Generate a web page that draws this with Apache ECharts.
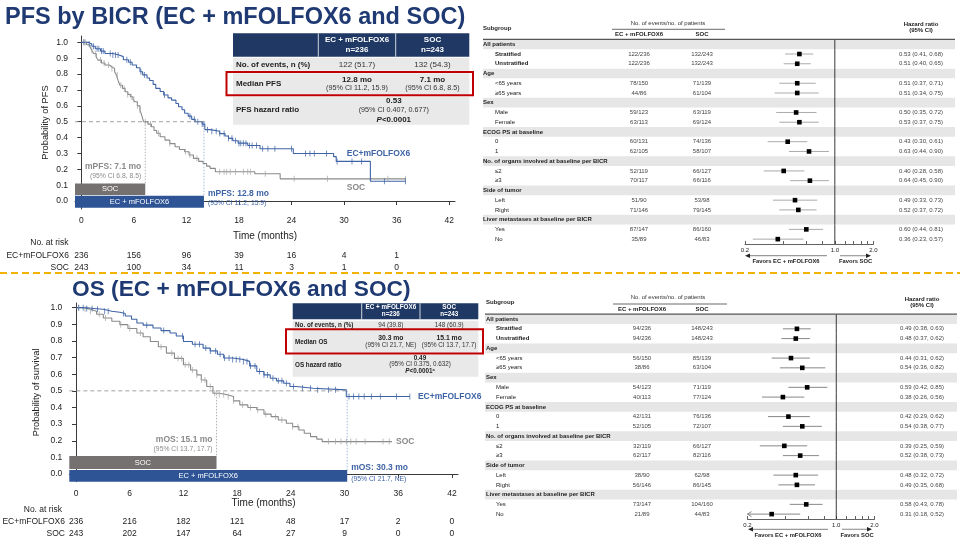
<!DOCTYPE html>
<html><head><meta charset="utf-8">
<script src="https://cdn.jsdelivr.net/npm/echarts@6/dist/echarts.min.js"></script>
<style>html,body{margin:0;padding:0;background:#fff}#c{width:960px;height:540px}</style>
</head><body><div id="c"></div>
<script>
// ================= DATA =================
const kmTicks = [0, 6, 12, 18, 24, 30, 36, 42];
const kmYTicks = [0, 0.1, 0.2, 0.3, 0.4, 0.5, 0.6, 0.7, 0.8, 0.9, 1.0];

// PFS curves [time (months), probability after drop]
const pfsEcCurve = [[0,1],[0.8,0.99],[1.2,0.975],[1.6,0.96],[2.2,0.945],[2.7,0.93],[3.6,0.92],[4.3,0.91],[4.8,0.89],[5.4,0.875],[5.8,0.857],[6.3,0.84],[6.7,0.815],[7.0,0.795],[7.5,0.775],[7.8,0.76],[8.2,0.735],[8.5,0.71],[9.0,0.69],[9.4,0.668],[9.9,0.65],[10.3,0.636],[10.8,0.615],[11.1,0.594],[11.5,0.575],[11.8,0.553],[12.2,0.535],[12.6,0.515],[13.0,0.5],[13.8,0.485],[14.1,0.45],[14.7,0.44],[15.8,0.425],[16.4,0.41],[16.8,0.395],[17.3,0.38],[17.9,0.365],[19.0,0.35],[20.4,0.33],[24.2,0.30],[28.8,0.28],[29.1,0.25],[33.0,0.125],[37.0,0.125]];
const pfsSocCurve = [[0,1],[0.6,0.985],[1.0,0.97],[1.2,0.95],[1.4,0.93],[1.7,0.91],[1.9,0.888],[2.3,0.87],[2.7,0.857],[3.2,0.845],[3.5,0.836],[3.8,0.815],[4.0,0.794],[4.2,0.76],[4.4,0.73],[4.7,0.71],[5.0,0.689],[5.3,0.672],[5.6,0.657],[5.9,0.64],[6.1,0.626],[6.4,0.6],[6.7,0.573],[6.9,0.54],[7.1,0.5],[7.6,0.485],[8.0,0.468],[8.3,0.445],[8.6,0.427],[9.0,0.405],[9.55,0.384],[10.1,0.362],[10.7,0.342],[11.2,0.325],[11.8,0.311],[12.3,0.29],[12.8,0.269],[13.4,0.25],[13.9,0.237],[14.3,0.22],[14.7,0.206],[15.3,0.185],[19.8,0.172],[22.7,0.14],[37.0,0.14]];
const pfsEcCensor = [0.3,0.9,1.4,1.8,2.0,2.3,2.5,3.3,3.6,3.9,4.2,5.2,5.6,6.8,7.2,9.5,12.4,12.9,13.3,13.8,14.0,14.4,14.9,15.4,15.8,16.3,16.8,17.2,17.6,18.0,18.2,18.5,18.8,19.2,19.5,20.0,20.7,21.3,22.1,24.0,25.6,26.1,26.6,28.0,29.2,30.9,32.0,34.6,37.0];
const pfsSocCensor = [0.3,0.5,1.2,1.6,2.2,2.6,3.1,3.5,4.1,4.5,4.9,5.3,5.7,6.0,6.4,6.7,7.3,7.9,8.8,10.1,11.9,12.4,13.2,15.8,16.3,16.6,17.0,17.6,18.5,19.0,19.3,21.0,24.3,28.1,35.0,37.0];
const pfsRiskEc = [236, 156, 96, 39, 16, 4, 1];
const pfsRiskSoc = [243, 100, 34, 11, 3, 1, 0];
const pfsMedianLine = { soc: 7.3, ec: 14.0 };
const pfsMedianText = { soc: ['mPFS: 7.1 mo', '(95% CI 6.8, 8.5)'], ec: ['mPFS: 12.8 mo', '(95% CI 11.2, 15.9)'] };

// OS curves
const osEcCurve = [[0,1],[1.0,0.995],[2.0,0.99],[3.05,0.978],[4.0,0.972],[4.9,0.965],[5.5,0.95],[6.2,0.93],[6.8,0.908],[7.5,0.895],[8.6,0.878],[9.5,0.862],[10.5,0.848],[11.2,0.83],[12.0,0.797],[13.0,0.78],[14.2,0.757],[15.0,0.74],[15.8,0.72],[16.5,0.697],[17.5,0.688],[18.7,0.677],[19.4,0.65],[20.2,0.616],[21.0,0.596],[21.7,0.576],[22.4,0.56],[23.2,0.546],[23.9,0.526],[24.6,0.516],[26.5,0.506],[30.2,0.466],[37.3,0.466]];
const osSocCurve = [[0,1],[0.8,0.99],[1.6,0.978],[2.3,0.96],[3.05,0.938],[4.0,0.918],[4.9,0.898],[5.8,0.875],[6.8,0.848],[7.5,0.825],[8.3,0.797],[9.2,0.765],[10.1,0.727],[11.0,0.695],[12.0,0.657],[12.8,0.625],[13.5,0.596],[14.0,0.565],[14.6,0.526],[15.3,0.486],[16.0,0.478],[16.8,0.466],[17.6,0.44],[18.3,0.416],[19.2,0.40],[20.2,0.386],[21.0,0.36],[21.8,0.345],[22.6,0.325],[23.5,0.305],[24.2,0.285],[24.9,0.265],[25.5,0.245],[26.2,0.225],[26.9,0.21],[27.5,0.195],[35.3,0.195]];
const osEcCensor = [0.3,0.8,1.2,1.8,2.4,3.2,3.6,5.3,7.9,9.8,11.9,13.3,13.8,14.5,15.0,15.6,16.1,16.6,17.1,17.5,17.9,18.3,18.7,19.1,19.5,20.0,20.5,21.0,21.4,22.0,22.6,23.0,23.5,24.3,25.3,26.2,27.0,28.2,29.0,30.5,31.0,31.6,32.2,33.0,34.0,35.8,37.3];
const osSocCensor = [0.3,1.0,1.6,2.6,3.3,5.0,6.0,7.2,9.5,10.7,11.4,11.8,12.2,12.6,13.0,13.5,14.0,14.4,15.0,15.5,16.0,16.5,17.0,17.6,18.6,19.5,20.3,21.2,22.3,23.0,24.2,24.8,28.2,29.0,29.6,30.2,30.7,31.3,32.3,34.3,35.0];
const osRiskEc = [236, 216, 182, 121, 48, 17, 2, 0];
const osRiskSoc = [243, 202, 147, 64, 27, 9, 0, 0];
const osMedianLine = { soc: 15.7, ec: 30.3 };
const osMedianText = { soc: ['mOS: 15.1 mo', '(95% CI 13.7, 17.7)'], ec: ['mOS: 30.3 mo', '(95% CI 21.7, NE)'] };

// Forest plots
const subgroups = ['All patients','Stratified','Unstratified','Age','<65 years','\u226565 years','Sex','Male','Female','ECOG PS at baseline','0','1','No. of organs involved at baseline per BICR','\u22642','\u22653','Side of tumor','Left','Right','Liver metastases at baseline per BICR','Yes','No'];
const pfsEvEc  = [null,'122/236','122/236',null,'78/150','44/86',null,'59/123','63/113',null,'60/131','62/105',null,'52/119','70/117',null,'51/90','71/146',null,'87/147','35/89'];
const pfsEvSoc = [null,'132/243','132/243',null,'71/139','61/104',null,'63/119','69/124',null,'74/136','58/107',null,'66/127','66/116',null,'53/98','79/145',null,'86/160','46/83'];
const pfsHr = [null,0.53,0.51,null,0.51,0.51,null,0.50,0.53,null,0.43,0.63,null,0.40,0.64,null,0.49,0.52,null,0.60,0.36];
const pfsLo = [null,0.41,0.40,null,0.37,0.34,null,0.35,0.37,null,0.30,0.44,null,0.28,0.45,null,0.33,0.37,null,0.44,0.23];
const pfsHi = [null,0.68,0.65,null,0.71,0.75,null,0.72,0.75,null,0.61,0.90,null,0.58,0.90,null,0.73,0.72,null,0.81,0.57];
const osEvEc  = [null,'94/236','94/236',null,'56/150','38/86',null,'54/123','40/113',null,'42/131','52/105',null,'32/119','62/117',null,'38/90','56/146',null,'73/147','21/89'];
const osEvSoc = [null,'148/243','148/243',null,'85/139','63/104',null,'71/119','77/124',null,'76/136','72/107',null,'66/127','82/116',null,'62/98','86/145',null,'104/160','44/83'];
const osHr = [null,0.49,0.48,null,0.44,0.54,null,0.59,0.38,null,0.42,0.54,null,0.39,0.52,null,0.48,0.49,null,0.58,0.31];
const osLo = [null,0.38,0.37,null,0.31,0.36,null,0.42,0.26,null,0.29,0.38,null,0.25,0.38,null,0.32,0.35,null,0.43,0.18];
const osHi = [null,0.63,0.62,null,0.62,0.82,null,0.85,0.56,null,0.62,0.77,null,0.59,0.73,null,0.72,0.68,null,0.78,0.52];
const forestTicks = [0.2, 0.4, 0.6, 0.8, 1.0, 1.2, 1.4, 1.6, 1.8, 2.0];
const forestLabels = [0.2, 1.0, 2.0];

// ================= STYLE / LAYOUT =================
const FONT = '"Liberation Sans", Arial, Helvetica, sans-serif';
const BLUE = '#3F64A6', GRAYC = '#8A8A8A', GRAYCEN = '#A6A6A6', BLUEBAR = '#2F5496', SOCBAR = '#767171';
const NAVY = '#1F3864', TITLE = '#1F3A72', RED = '#C00000', AX = '#3A3A3A', TXT = '#222';
const boldRows = ['Stratified', 'Unstratified'];
const KMF = 8.5; // km tick / at-risk font

function survAt(curve, t) { let s = curve[0][1]; for (const p of curve) { if (p[0] <= t) s = p[1]; else break; } return s; }

function st(text, o) {
  o = o || {};
  const s = { text: text, fill: o.fill || TXT, fontSize: o.size || 8, fontWeight: o.bold ? 'bold' : 'normal',
    fontStyle: o.italic ? 'italic' : 'normal', fontFamily: FONT,
    align: o.align || 'left', verticalAlign: 'middle', textAlign: o.align || 'left', textVerticalAlign: 'middle' };
  if (o.rich) s.rich = o.rich;
  return s;
}
function T(x, y, text, o) { return { type: 'text', x: x, y: y, silent: true, z: 20, style: st(text, o) }; }
function CT(x, y, text, o) { return { type: 'text', x: x, y: y, z2: 6, style: st(text, o) }; }
function L(x1, y1, x2, y2, color, w, dash) { return { type: 'line', silent: true, z: 20, shape: { x1, y1, x2, y2 }, style: { stroke: color, lineWidth: w || 1, lineDash: dash || null } }; }
function R(x, y, w, h, fill, stroke, lw) { return { type: 'rect', silent: true, z: 15, shape: { x, y, width: w, height: h }, style: { fill: fill || 'none', stroke: stroke || null, lineWidth: lw || 0 } }; }

const pfsPanel = { x0: -0.72, med: pfsMedianLine, txt: pfsMedianText, socBar: [0.038, 0.111], ecBar: [-0.042, 0.033],
  socTxtY: [0.214, 0.158], ecTxtY: [0.044, -0.013], ecLab: [30.3, 0.30], socLab: [30.3, 0.082], riskY: [255.5, 267.5] };
const osPanel = { x0: -0.75, med: osMedianLine, txt: osMedianText, socBar: [0.030, 0.108], ecBar: [-0.046, 0.024],
  socTxtY: [0.205, 0.150], ecTxtY: [0.036, -0.030], ecLab: [38.2, 0.464], socLab: [35.75, 0.193], riskY: [522, 533.5] };

function overlaySeries(gi, p) {
  return {
    type: 'custom', xAxisIndex: gi, yAxisIndex: gi, clip: false, silent: true, z: 4,
    data: [[0, 0.5]], encode: { x: 0, y: 1 },
    renderItem: function (params, api) {
      const c = (x, y) => api.coord([x, y]);
      const els = [];
      const a = c(p.x0, 0.5), b = c(p.med.ec, 0.5);
      els.push({ type: 'line', shape: { x1: a[0], y1: a[1], x2: b[0], y2: b[1] }, style: { stroke: '#8C8C8C', lineWidth: 0.8, lineDash: [4, 3] } });
      const s1 = c(p.med.soc, 0.5), s2 = c(p.med.soc, p.socBar[1]);
      els.push({ type: 'line', shape: { x1: s1[0], y1: s1[1], x2: s2[0], y2: s2[1] }, style: { stroke: '#A0A0A0', lineWidth: 0.8, lineDash: [1.5, 1.5] } });
      const e1 = c(p.med.ec, 0.5), e2 = c(p.med.ec, p.ecBar[1]);
      els.push({ type: 'line', shape: { x1: e1[0], y1: e1[1], x2: e2[0], y2: e2[1] }, style: { stroke: '#8FA6D0', lineWidth: 0.8, lineDash: [1.5, 1.5] } });
      const r1 = c(p.x0, p.socBar[1]), r2 = c(p.med.soc, p.socBar[0]);
      els.push({ type: 'rect', shape: { x: r1[0], y: r1[1], width: r2[0] - r1[0], height: r2[1] - r1[1] }, style: { fill: SOCBAR } });
      els.push(CT((r1[0] + r2[0]) / 2, (r1[1] + r2[1]) / 2, 'SOC', { fill: '#fff', size: 7.5, align: 'center' }));
      const q1 = c(p.x0, p.ecBar[1]), q2 = c(p.med.ec, p.ecBar[0]);
      els.push({ type: 'rect', shape: { x: q1[0], y: q1[1], width: q2[0] - q1[0], height: q2[1] - q1[1] }, style: { fill: BLUEBAR } });
      els.push(CT((q1[0] + q2[0]) / 2, (q1[1] + q2[1]) / 2, 'EC + mFOLFOX6', { fill: '#fff', size: 7.5, align: 'center' }));
      const t1 = c(p.med.soc, p.socTxtY[0]), t2 = c(p.med.soc, p.socTxtY[1]);
      els.push(CT(t1[0] - 4, t1[1], p.txt.soc[0], { fill: '#8A8A8A', size: 8.5, bold: true, align: 'right' }));
      els.push(CT(t2[0] - 4, t2[1], p.txt.soc[1], { fill: '#8A8A8A', size: 6.8, align: 'right' }));
      const u1 = c(p.med.ec, p.ecTxtY[0]), u2 = c(p.med.ec, p.ecTxtY[1]);
      els.push(CT(u1[0] + 4, u1[1], p.txt.ec[0], { fill: BLUE, size: 8.5, bold: true }));
      els.push(CT(u2[0] + 4, u2[1], p.txt.ec[1], { fill: BLUE, size: 6.8 }));
      const l1 = c(p.ecLab[0], p.ecLab[1]), l2 = c(p.socLab[0], p.socLab[1]);
      els.push(CT(l1[0], l1[1], 'EC+mFOLFOX6', { fill: BLUE, size: 8.5, bold: true }));
      els.push(CT(l2[0], l2[1], 'SOC', { fill: '#8A8A8A', size: 8.5, bold: true }));
      return { type: 'group', children: els };
    }
  };
}

function riskSeries(gi, ec, soc, ys) {
  return {
    type: 'custom', xAxisIndex: gi, yAxisIndex: gi, clip: false, silent: true,
    data: kmTicks.map((t, i) => [t, 0, i]), encode: { x: 0, y: 1 },
    renderItem: function (params, api) {
      const i = params.dataIndex;
      const x = api.coord([kmTicks[i], 0])[0];
      const els = [];
      if (ec[i] != null) els.push(CT(x, ys[0], String(ec[i]), { size: KMF, align: 'center' }));
      if (soc[i] != null) els.push(CT(x, ys[1], String(soc[i]), { size: KMF, align: 'center' }));
      return { type: 'group', children: els };
    }
  };
}

function kmSeries(gi, ecCurve, socCurve, ecCen, socCen) {
  return [
    { type: 'line', xAxisIndex: gi, yAxisIndex: gi, data: socCurve, step: 'end', symbol: 'none', silent: true, z: 3, lineStyle: { color: GRAYC, width: 1.1 } },
    { type: 'line', xAxisIndex: gi, yAxisIndex: gi, data: ecCurve, step: 'end', symbol: 'none', silent: true, z: 3, lineStyle: { color: BLUE, width: 1.1 } },
    { type: 'scatter', xAxisIndex: gi, yAxisIndex: gi, data: socCen.map(t => [t, survAt(socCurve, t)]), symbol: 'rect', symbolSize: [0.9, 6], silent: true, z: 3, itemStyle: { color: GRAYCEN } },
    { type: 'scatter', xAxisIndex: gi, yAxisIndex: gi, data: ecCen.map(t => [t, survAt(ecCurve, t)]), symbol: 'rect', symbolSize: [0.9, 6], silent: true, z: 3, itemStyle: { color: BLUE } }
  ];
}

function kmX(gi, min, max, nameGap) {
  return { type: 'value', gridIndex: gi, min: min, max: max,
    axisLine: { show: true, lineStyle: { color: AX, width: 1 } },
    axisTick: { show: true, customValues: kmTicks, length: 4, lineStyle: { color: AX } },
    axisLabel: { customValues: kmTicks, color: TXT, fontSize: KMF, fontFamily: FONT, margin: 7 },
    splitLine: { show: false },
    name: 'Time (months)', nameLocation: 'middle', nameGap: nameGap, nameTextStyle: { fontSize: 10, color: TXT, fontFamily: FONT } };
}
function kmY(gi, min, max, name, nameGap) {
  return { type: 'value', gridIndex: gi, min: min, max: max,
    axisLine: { show: true, lineStyle: { color: AX, width: 1 } },
    axisTick: { show: true, customValues: kmYTicks, length: 4, lineStyle: { color: AX } },
    axisLabel: { customValues: kmYTicks, formatter: v => Number(v).toFixed(1), color: TXT, fontSize: KMF, fontFamily: FONT, margin: 7 },
    splitLine: { show: false },
    name: name, nameLocation: 'middle', nameRotate: 90, nameGap: nameGap, nameTextStyle: { fontSize: 9.3, color: TXT, fontFamily: FONT } };
}
function fX(gi) {
  return { type: 'log', gridIndex: gi, min: 0.2, max: 2.0, logBase: 10,
    axisLine: { show: true, lineStyle: { color: AX, width: 0.8 } },
    axisTick: { show: true, inside: true, length: 3, customValues: forestTicks, lineStyle: { color: AX, width: 0.8 } },
    axisLabel: { customValues: forestLabels, formatter: v => Number(v).toFixed(1), fontSize: 6, color: TXT, fontFamily: FONT, margin: 3 },
    splitLine: { show: false } };
}
function fY(gi) { return { type: 'category', gridIndex: gi, data: subgroups, inverse: true, show: false }; }

const fTop = { labelX: 483, indentX: 495, ecX: 639, socX: 702, hrX: 921, bandL: 483, bandR: 955, ci: '#A0A0A0', fs: 6 };
const fBot = { labelX: 486, indentX: 496, ecX: 642, socX: 702, hrX: 922, bandL: 485, bandR: 957, ci: '#7A7A7A', fs: 6 };

function forestSeries(gi, d, Lo) {
  return {
    type: 'custom', xAxisIndex: gi, yAxisIndex: gi, clip: false, silent: true,
    data: subgroups.map((s, i) => [1, i]), encode: { x: 0, y: 1 },
    renderItem: function (params, api) {
      const i = params.dataIndex;
      const cy = api.coord([1, i])[1];
      const rh = Math.abs(api.coord([1, 1])[1] - api.coord([1, 0])[1]);
      const head = d.hr[i] == null;
      const els = [];
      if (head) els.push({ type: 'rect', z2: 0, shape: { x: Lo.bandL, y: cy - rh / 2, width: Lo.bandR - Lo.bandL, height: rh }, style: { fill: '#E6E6E6' } });
      const vx = api.coord([1, i])[0];
      els.push({ type: 'line', z2: 5, shape: { x1: vx, y1: cy - rh / 2, x2: vx, y2: cy + rh / 2 }, style: { stroke: '#222', lineWidth: 0.9 } });
      els.push(CT(head ? Lo.labelX : Lo.indentX, cy, subgroups[i], { size: Lo.fs, bold: head || boldRows.indexOf(subgroups[i]) >= 0 }));
      if (!head) {
        els.push(CT(Lo.ecX, cy, d.ec[i], { size: Lo.fs, align: 'center', fill: '#444' }));
        els.push(CT(Lo.socX, cy, d.soc[i], { size: Lo.fs, align: 'center', fill: '#444' }));
        els.push(CT(Lo.hrX, cy, d.hr[i].toFixed(2) + ' (' + d.lo[i].toFixed(2) + ', ' + d.hi[i].toFixed(2) + ')', { size: Lo.fs, align: 'center', fill: '#444' }));
        const lo = Math.max(d.lo[i], 0.2);
        const pl = api.coord([lo, i]), ph = api.coord([d.hi[i], i]), pm = api.coord([d.hr[i], i]);
        els.push({ type: 'line', z2: 3, shape: { x1: pl[0], y1: cy, x2: ph[0], y2: cy }, style: { stroke: Lo.ci, lineWidth: 0.9 } });
        if (d.lo[i] < 0.2) els.push({ type: 'polyline', z2: 3, shape: { points: [[pl[0] + 4, cy - 2.5], [pl[0], cy], [pl[0] + 4, cy + 2.5]] }, style: { stroke: Lo.ci, fill: null, lineWidth: 0.9 } });
        els.push({ type: 'rect', z2: 7, shape: { x: pm[0] - 2.3, y: cy - 2.3, width: 4.6, height: 4.6 }, style: { fill: '#000' } });
      }
      return { type: 'group', children: els };
    }
  };
}

// ================= GRAPHIC (titles, tables, headers) =================
const G = [];
G.push(T(5, 18, 'PFS by BICR (EC + mFOLFOX6 and SOC)', { size: 23.5, bold: true, fill: TITLE }));
G.push(T(72, 290, 'OS (EC + mFOLFOX6 and SOC)', { size: 22.7, bold: true, fill: TITLE }));
G.push(L(0, 273, 960, 273, '#F2B200', 2, [7, 4]));

(function () {
  const x0 = 233, c1 = 318.3, c2 = 395.7, x1 = 469.3, m1 = (c1 + c2) / 2, m2 = (c2 + x1) / 2, mm = (c1 + x1) / 2;
  G.push(R(x0, 33.3, x1 - x0, 23.4, NAVY));
  G.push(L(c1, 33.3, c1, 56.7, '#fff', 0.8), L(c2, 33.3, c2, 56.7, '#fff', 0.8));
  G.push(T(m1, 40, 'EC + mFOLFOX6', { size: 8, bold: true, fill: '#fff', align: 'center' }), T(m1, 49.5, 'n=236', { size: 8, bold: true, fill: '#fff', align: 'center' }));
  G.push(T(m2, 40, 'SOC', { size: 8, bold: true, fill: '#fff', align: 'center' }), T(m2, 49.5, 'n=243', { size: 8, bold: true, fill: '#fff', align: 'center' }));
  G.push(R(x0, 57.8, x1 - x0, 13, '#E9E9E9'), R(x0, 73.2, x1 - x0, 21.3, '#E9E9E9'), R(x0, 96.8, x1 - x0, 28, '#E9E9E9'));
  G.push(T(236, 64.3, 'No. of events, n (%)', { size: 8, bold: true }));
  G.push(T(m1, 64.3, '122 (51.7)', { size: 8, align: 'center', fill: '#333' }), T(m2, 64.3, '132 (54.3)', { size: 8, align: 'center', fill: '#333' }));
  G.push(T(236, 83.5, 'Median PFS', { size: 8, bold: true }));
  G.push(T(m1, 79.5, '12.8 mo', { size: 8, bold: true, align: 'center' }), T(m1, 88, '(95% CI 11.2, 15.9)', { size: 7.2, align: 'center', fill: '#333' }));
  G.push(T(m2, 79.5, '7.1 mo', { size: 8, bold: true, align: 'center' }), T(m2, 88, '(95% CI 6.8, 8.5)', { size: 7.2, align: 'center', fill: '#333' }));
  G.push(T(236, 110, 'PFS hazard ratio', { size: 8, bold: true }));
  G.push(T(mm, 101, '0.53', { size: 8, bold: true, align: 'center' }), T(mm, 110, '(95% CI 0.407, 0.677)', { size: 7.2, align: 'center', fill: '#333' }));
  G.push(T(mm, 119.3, '{i|P}<0.0001', { size: 8, bold: true, align: 'center', rich: { i: { fontStyle: 'italic', fontWeight: 'bold', fontSize: 8, fontFamily: FONT, fill: TXT } } }));
  G.push(R(226.5, 72, 246.5, 23.3, 'none', RED, 2));
})();

(function () {
  const x0 = 292.7, c1 = 361.7, c2 = 420, x1 = 478.3, m1 = (c1 + c2) / 2, m2 = (c2 + x1) / 2, mm = (c1 + x1) / 2, fs = 6.3;
  G.push(R(x0, 303.3, x1 - x0, 16, NAVY));
  G.push(L(c1, 303.3, c1, 319.3, '#fff', 0.8), L(c2, 303.3, c2, 319.3, '#fff', 0.8));
  G.push(T(m1, 306.8, 'EC + mFOLFOX6', { size: fs, bold: true, fill: '#fff', align: 'center' }), T(m1, 313.8, 'n=236', { size: fs, bold: true, fill: '#fff', align: 'center' }));
  G.push(T(m2, 306.8, 'SOC', { size: fs, bold: true, fill: '#fff', align: 'center' }), T(m2, 313.8, 'n=243', { size: fs, bold: true, fill: '#fff', align: 'center' }));
  G.push(R(x0, 320.8, x1 - x0, 8, '#E9E9E9'), R(x0, 330, x1 - x0, 23, '#E9E9E9'), R(x0, 355, x1 - x0, 21.7, '#E9E9E9'));
  G.push(T(295, 325, 'No. of events, n (%)', { size: fs, bold: true }));
  G.push(T(m1, 325, '94 (39.8)', { size: fs, align: 'center', fill: '#333' }), T(m2, 325, '148 (60.9)', { size: fs, align: 'center', fill: '#333' }));
  G.push(T(295, 342.5, 'Median OS', { size: fs, bold: true }));
  G.push(T(m1, 338.3, '30.3 mo', { size: fs + 0.5, bold: true, align: 'center' }), T(m1, 345.3, '(95% CI 21.7, NE)', { size: fs, align: 'center', fill: '#333' }));
  G.push(T(m2, 338.3, '15.1 mo', { size: fs + 0.5, bold: true, align: 'center' }), T(m2, 345.3, '(95% CI 13.7, 17.7)', { size: fs, align: 'center', fill: '#333' }));
  G.push(T(295, 365, 'OS hazard ratio', { size: fs, bold: true }));
  G.push(T(mm, 357.8, '0.49', { size: fs, bold: true, align: 'center' }), T(mm, 364.6, '(95% CI 0.375, 0.632)', { size: fs, align: 'center', fill: '#333' }));
  G.push(T(mm, 371.2, '{i|P}<0.0001{s|a}', { size: fs, bold: true, align: 'center', rich: { i: { fontStyle: 'italic', fontWeight: 'bold', fontSize: fs, fontFamily: FONT, fill: TXT }, s: { fontSize: 4, fontWeight: 'bold', fontFamily: FONT, fill: TXT, verticalAlign: 'top' } } }));
  G.push(R(286, 329.3, 197, 24.3, 'none', RED, 2));
})();

function forestHeader(o) {
  G.push(T(o.lx, o.subY, 'Subgroup', { size: 6, bold: true }));
  G.push(T(o.evX, o.evY, 'No. of events/no. of patients', { size: 6, align: 'center', fill: '#333' }));
  G.push(L(o.l1, o.evLine, o.l2, o.evLine, '#444', 0.8));
  G.push(T(o.ecX, o.colY, 'EC + mFOLFOX6', { size: 6, bold: true, align: 'center' }));
  G.push(T(o.socX, o.colY, 'SOC', { size: 6, bold: true, align: 'center' }));
  G.push(L(o.bl, o.thick, o.br, o.thick, '#555', 1.3));
  G.push(T(o.hrX, o.hrY1, 'Hazard ratio', { size: 6, bold: true, align: 'center' }));
  G.push(T(o.hrX, o.hrY2, '(95% CI)', { size: 6, bold: true, align: 'center' }));
  G.push(L(o.aL + 4, o.arY, o.aM, o.arY, '#999', 1.2));
  G.push({ type: 'polygon', silent: true, z: 20, shape: { points: [[o.aL, o.arY], [o.aL + 5, o.arY - 2.2], [o.aL + 5, o.arY + 2.2]] }, style: { fill: '#222' } });
  G.push(L(o.bR1, o.arY, o.bR2 - 4, o.arY, '#999', 1.2));
  G.push({ type: 'polygon', silent: true, z: 20, shape: { points: [[o.bR2, o.arY], [o.bR2 - 5, o.arY - 2.2], [o.bR2 - 5, o.arY + 2.2]] }, style: { fill: '#222' } });
  G.push(T((o.aL + o.aM) / 2, o.fY, 'Favors EC + mFOLFOX6', { size: 5.8, bold: true, align: 'center' }));
  G.push(T((o.bR1 + o.bR2) / 2, o.fY, 'Favors SOC', { size: 5.8, bold: true, align: 'center' }));
}
forestHeader({ lx: 483, subY: 28.3, evX: 668, evY: 23.3, l1: 612, l2: 725, evLine: 29.3, ecX: 639, socX: 702, colY: 34.3, bl: 483, br: 955, thick: 39.4, hrX: 921, hrY1: 24.3, hrY2: 30.7, aL: 745, aM: 827, bR1: 840, bR2: 871, arY: 255.7, fY: 261.7 });
forestHeader({ lx: 486, subY: 302.7, evX: 668, evY: 297.7, l1: 613, l2: 727, evLine: 304, ecX: 642, socX: 702, colY: 309.3, bl: 485, br: 957, thick: 314.2, hrX: 922, hrY1: 299.3, hrY2: 305.5, aL: 748, aM: 828, bR1: 842, bR2: 872, arY: 529.3, fY: 535.2 });

G.push(T(68.5, 243, 'No. at risk', { size: KMF, align: 'right' }), T(69, 255.5, 'EC+mFOLFOX6', { size: KMF, align: 'right' }), T(69, 267.5, 'SOC', { size: KMF, align: 'right' }));
G.push(T(62, 510, 'No. at risk', { size: KMF, align: 'right' }), T(65, 522, 'EC+mFOLFOX6', { size: KMF, align: 'right' }), T(65, 533.5, 'SOC', { size: KMF, align: 'right' }));

// ================= OPTION =================
const option = {
  animation: false,
  backgroundColor: '#fff',
  textStyle: { fontFamily: FONT },
  grid: [
    { left: 75, top: 36, width: 380, height: 173 },
    { left: 69.3, top: 303, width: 388.7, height: 178.7 },
    { left: 745, top: 39.4, width: 128.5, height: 204.6 },
    { left: 747.5, top: 314.2, width: 127, height: 204.8 }
  ],
  xAxis: [kmX(0, -0.72, 42.66, 22), kmX(1, -0.75, 42.68, 17), fX(2), fX(3)],
  yAxis: [kmY(0, -0.05, 1.04, 'Probability of PFS', 25), kmY(1, -0.046, 1.028, 'Probability of survival', 28), fY(2), fY(3)],
  series: [].concat(
    kmSeries(0, pfsEcCurve, pfsSocCurve, pfsEcCensor, pfsSocCensor),
    [overlaySeries(0, pfsPanel), riskSeries(0, pfsRiskEc, pfsRiskSoc, pfsPanel.riskY)],
    kmSeries(1, osEcCurve, osSocCurve, osEcCensor, osSocCensor),
    [overlaySeries(1, osPanel), riskSeries(1, osRiskEc, osRiskSoc, osPanel.riskY)],
    [forestSeries(2, { ec: pfsEvEc, soc: pfsEvSoc, hr: pfsHr, lo: pfsLo, hi: pfsHi }, fTop),
     forestSeries(3, { ec: osEvEc, soc: osEvSoc, hr: osHr, lo: osLo, hi: osHi }, fBot)]
  ),
  graphic: { elements: G }
};
const chart = echarts.init(document.getElementById('c'), null, { renderer: 'canvas', width: 960, height: 540 });
chart.setOption(option);
</script></body></html>
